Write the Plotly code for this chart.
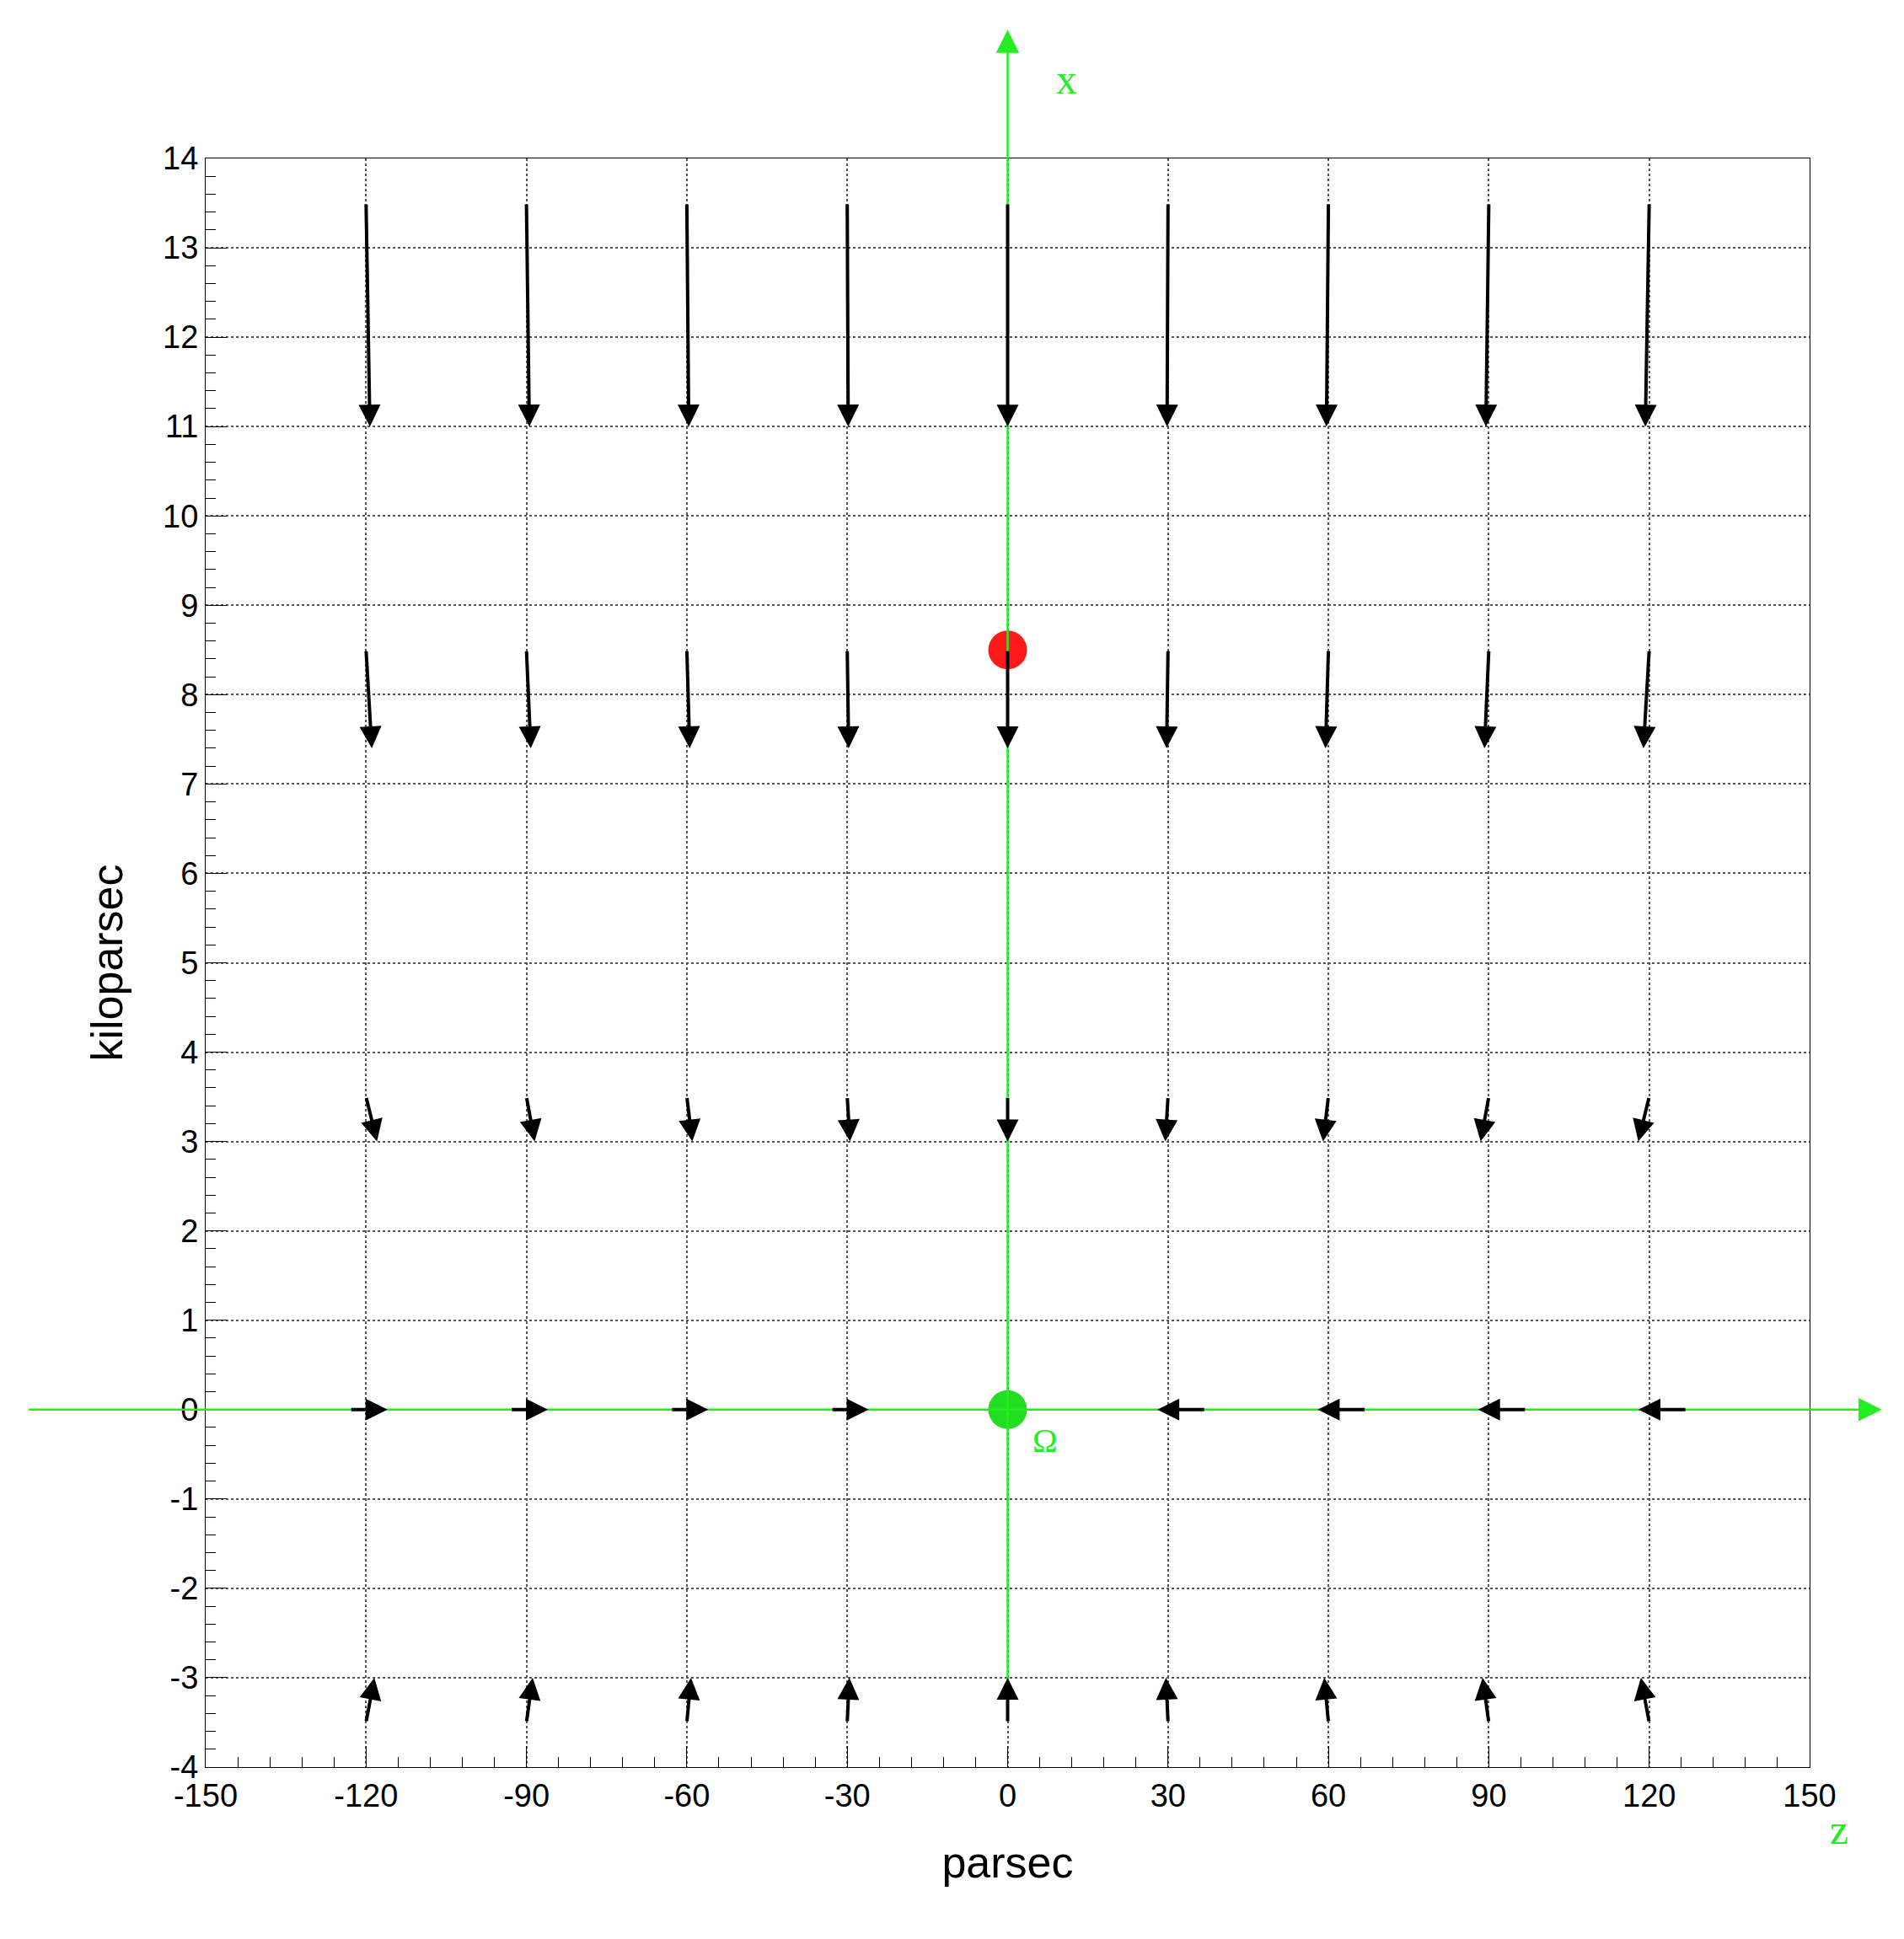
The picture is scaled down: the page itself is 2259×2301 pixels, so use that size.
import plotly.graph_objects as go

# arrow columns (parsec)
z_cols = [-120, -90, -60, -30, 0, 30, 60, 90, 120]

# vertical arrow rows: tail x, head x (kpc), inward tilt of head (parsec per parsec)
rows_tail = [13.5, 8.5, 3.5, -3.5]
rows_head = [11.0, 7.4, 3.0, -3.0]
rows_tilt = [0.006, 0.009, 0.017, 0.013]

# horizontal arrows on x=0 row: tail z, head z
h_tail = [-123, -93, -63, -33, 37, 67, 97, 127]
h_head = [-116, -86, -56, -26, 28, 58, 88, 118]

fig = go.Figure()
fig.add_trace(go.Scatter(x=[0], y=[8.5], mode="markers",
                         marker=dict(color="#ff1a1a", size=46), showlegend=False))
fig.add_trace(go.Scatter(x=[0], y=[0], mode="markers",
                         marker=dict(color="#22dd22", size=46), showlegend=False))

ann = []
green = "#22ee22"
# green coordinate axes (horizontal one reaches outside the plot, so paper/pixel refs)
ann.append(dict(x=1.045, y=0, xref="paper", yref="y", ax=-2200, ay=0,
                text="", showarrow=True, arrowhead=2, arrowsize=2.2, arrowwidth=2.5,
                arrowcolor=green))
ann.append(dict(x=0.5, y=1.08, xref="paper", yref="paper", ax=0, ay=1980,
                text="", showarrow=True, arrowhead=2, arrowsize=2.2, arrowwidth=2.5,
                arrowcolor=green))

for t, h, k in zip(rows_tail, rows_head, rows_tilt):
    for z in z_cols:
        ann.append(dict(x=z - z * k, y=h, ax=z, ay=t, xref="x", yref="y", axref="x", ayref="y",
                        text="", showarrow=True, arrowhead=2, arrowsize=1.3, arrowwidth=4,
                        arrowcolor="black"))
for t, h in zip(h_tail, h_head):
    ann.append(dict(x=h, y=0, ax=t, ay=0, xref="x", yref="y", axref="x", ayref="y",
                    text="", showarrow=True, arrowhead=2, arrowsize=1.3, arrowwidth=4,
                    arrowcolor="black"))

lab = dict(family="Liberation Serif", size=50, color=green)
ann.append(dict(x=0.537, y=1.065, text="x", showarrow=False, font=lab, xref="paper", yref="paper"))
ann.append(dict(x=1.025, y=-0.023, text="z", showarrow=False, font=lab, xref="paper", yref="paper",
                yanchor="top"))
ann.append(dict(x=7, y=-0.35, text="Ω", showarrow=False,
                font=dict(family="Liberation Serif", size=40, color=green), xref="x", yref="y"))

fig.update_layout(
    width=2259, height=2301, plot_bgcolor="white", paper_bgcolor="white",
    margin=dict(l=236, r=120, t=180, b=212),
    font=dict(family="Liberation Sans", size=38, color="black"),
    annotations=ann,
    xaxis=dict(range=[-150, 150], tickvals=[-150, -120, -90, -60, -30, 0, 30, 60, 90, 120, 150],
               ticktext=["-150", "-120", "-90", "-60", "-30", "0", "30", "60", "90", "120", "150"],
               ticks="inside", ticklen=25, tickcolor="black", showline=True, linecolor="black",
               mirror=True, showgrid=True, gridcolor="#555", griddash="dot", gridwidth=1.5,
               zeroline=False, minor=dict(dtick=6, ticks="inside", ticklen=12, tickcolor="black"),
               title=dict(text="parsec", font=dict(size=52), standoff=40)),
    yaxis=dict(range=[-4, 14], tickvals=list(range(-4, 15)),
               ticktext=[str(v) for v in range(-4, 15)],
               ticks="inside", ticklen=25, tickcolor="black", showline=True, linecolor="black",
               mirror=True, showgrid=True, gridcolor="#555", griddash="dot", gridwidth=1.5,
               zeroline=False, minor=dict(dtick=0.2, ticks="inside", ticklen=12, tickcolor="black"),
               title=dict(text="kiloparsec", font=dict(size=52), standoff=30)),
)
fig.write_html("out.html")
